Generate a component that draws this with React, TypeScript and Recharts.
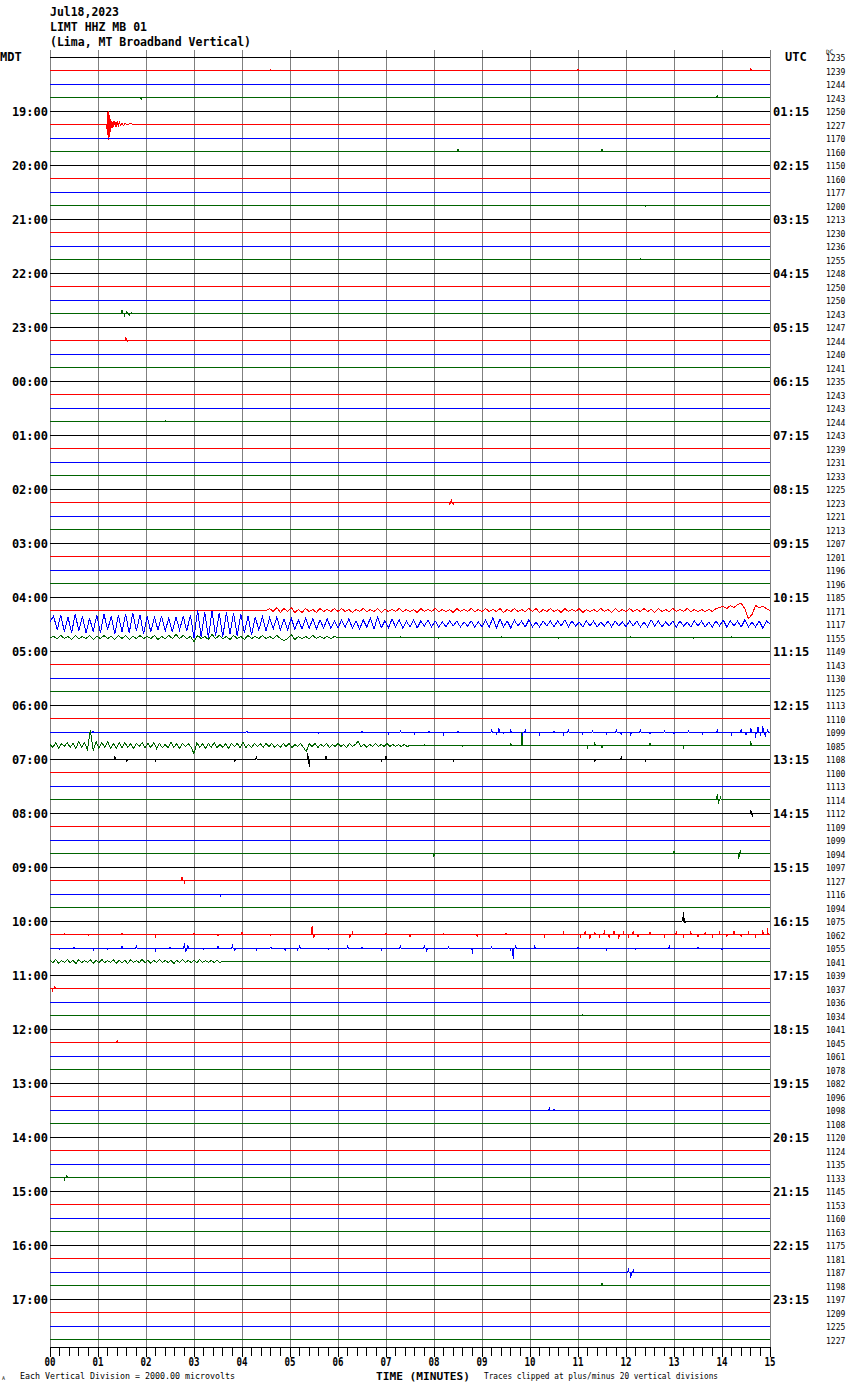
import React from "react";
import { LineChart, Line, XAxis, YAxis, CartesianGrid } from "recharts";

// ---------------- data ----------------
const traceColors = ["#000000", "#ff0000", "#0000ff", "#006400"];

const mdtLabels = ["MDT", "19:00", "20:00", "21:00", "22:00", "23:00", "00:00", "01:00", "02:00", "03:00", "04:00", "05:00", "06:00", "07:00", "08:00", "09:00", "10:00", "11:00", "12:00", "13:00", "14:00", "15:00", "16:00", "17:00"];
const utcLabels = ["UTC", "01:15", "02:15", "03:15", "04:15", "05:15", "06:15", "07:15", "08:15", "09:15", "10:15", "11:15", "12:15", "13:15", "14:15", "15:15", "16:15", "17:15", "18:15", "19:15", "20:15", "21:15", "22:15", "23:15"];
const minuteLabels = ["00", "01", "02", "03", "04", "05", "06", "07", "08", "09", "10", "11", "12", "13", "14", "15"];

const dcValues = [
  1235, 1239, 1244, 1243, 1250, 1227, 1170, 1160, 1150, 1160, 1177, 1200,
  1213, 1230, 1236, 1255, 1248, 1250, 1250, 1243, 1247, 1244, 1240, 1241,
  1235, 1243, 1243, 1244, 1243, 1239, 1231, 1233, 1225, 1223, 1221, 1213,
  1207, 1201, 1196, 1196, 1185, 1171, 1117, 1155, 1149, 1143, 1130, 1125,
  1113, 1110, 1099, 1085, 1108, 1100, 1113, 1114, 1112, 1109, 1099, 1094,
  1097, 1127, 1116, 1094, 1075, 1062, 1055, 1041, 1039, 1037, 1036, 1034,
  1041, 1045, 1061, 1078, 1082, 1096, 1098, 1108, 1120, 1124, 1135, 1133,
  1145, 1153, 1160, 1163, 1175, 1181, 1187, 1198, 1197, 1209, 1225, 1227,
];

// amplitudes in pixels of deflection, positive = upward
// 04:15 red trace, samples every 0.075 min from minute 4.5
const red0415 = [
  0, 2, -1, 3, -2, 2, -1, 3, -2, 1, -2, 2, -1, 1, -2, 2, -1, 1, -1, 2,
  -1, 2, -1, 1, -2, 1, -1, 2, -1, 1, -1, 2, -2, 1, -1, 1, -1, 2, -1, 1,
  -1, 1, -2, 2, -1, 1, -1, 2, -1, 1, -1, 1, -2, 2, -1, 1, -1, 2, -1, 1,
  -1, 2, -1, 1, -1, 2, -2, 1, -1, 2, -1, 1, -1, 2, -1, 2, -2, 1, -1, 2,
  -1, 1, -2, 2, -1, 1, -1, 2, -2, 1, -1, 1, -1, 2, -1, 1, -2, 2, -1, 1,
  -1, 2, -1, 1, -1, 2, -1, 1, -2, 2, -1, 1, -1, 2, -1, 1, -1, 2, -1, 1,
  -1, 1, -1, 1, -1, 2, 3, 4, 2, 5, 3, 6, 7, 2, -8, -4, 5, 3, 4, 2,
  0,
];
// 04:30 blue trace (surface waves), samples every 0.075 min from minute 0
const blue0430 = [
  2, 8, -6, 9, -8, 7, -9, 10, -7, 8, -9, 6, -8, 9, -9, 10, -6, 8, -10, 9,
  -8, 10, -9, 11, -7, 9, -10, 8, -8, 7, -6, 8, -7, 6, -8, 7, -6, 8, -7, 9,
  -14, 14, -13, 12, -14, 13, -12, 11, -13, 12, -10, 11, -12, 10, -9, 8, -11, 7, -6, 7,
  -7, 6, -5, 7, -6, 5, -6, 6, -5, 4, -5, 6, -4, 5, -5, 4, -4, 5, -4, 3,
  -4, 4, -3, 5, -4, 3, -5, 4, -3, 6, -5, 7, -4, 3, -4, 5, -3, 4, -4, 3,
  -3, 4, -4, 3, -2, 4, -3, 3, -3, 2, -3, 3, -2, 3, -3, 2, -2, 3, -3, 2,
  -3, 4, -3, 6, -4, 5, -3, 3, -4, 4, -2, 3, -3, 4, -3, 2, -3, 3, -2, 3,
  -3, 3, -2, 4, -3, 3, -2, 2, -3, 3, -2, 3, -3, 2, -2, 3, -3, 3, -2, 2,
  -3, 3, -2, 3, -3, 2, -3, 4, -2, 3, -3, 2, -2, 3, -3, 3, -2, 2, -3, 3,
  -2, 3, -3, 2, -3, 3, -2, 4, -3, 3, -2, 3, -3, 4, -3, 2, -3, 3, -4, 3,
  0,
];
// 04:45 green trace, samples every 0.075 min from minute 0
const green0445 = [
  0, 1, -1, 2, -1, 1, -2, 2, -1, 1, -1, 2, -2, 1, -1, 2, -1, 1, -2, 2,
  -1, 2, -2, 1, -1, 2, -1, 1, -1, 2, -2, 1, -1, 2, -1, 3, -1, 2, -1, 1,
  -4, 2, -1, 1, -2, 3, -1, 2, -1, 1, -2, 2, -1, 1, -2, 2, -1, 1, -1, 2,
  -1, 1, -1, 2, -1, -3, -1, 3, -2, 1, -1, 1, -1, 2, -1, 1, -1, 1, -1, 1,
  0,
];
// 06:45 green trace, samples every 0.06 min from minute 0
const green0645 = [
  1, -2, 3, -3, 2, -1, 3, -2, 2, -3, 4, -2, 3, -4, 15, -5, 4, -3, 3, -2, 4, -3, 2, -3, 3,
  -2, 3, -2, 2, -3, 2, -1, 3, -2, 2, -2, 3, -3, 2, -2, 1, -2, 3, -2, 2, -3, 2, -1, 2, -2,
  -8, 3, -2, 2, -3, 2, -2, 3, -2, 1, -2, 2, -3, 2, -1, 2, -2, 3, -2, 1, -2, 2, -1, 2, -2,
  2, -1, 2, -2, 1, -2, 2, -1, 2, -2, 1, -1, 2, -2, -6, 2, -1, 2, -2, 1, -1, 2, -2, 1, -1,
  2, -1, 1, -2, 2, -1, 1, 4, -1, 1, -2, 1, -1, 2, -1, 1, -1, 2, -1, 1, -1, 1, -1, 1, -1,
  0,
];
// 10:45 green trace, samples every 0.06 min from minute 0
const green1045 = [
  1, -1, 2, -2, 1, -1, 2, -1, 1, -2, 2, -1, 1, -1, 2, -2, 1, -1, 2, -1,
  1, -1, 2, -2, 1, -1, 1, -2, 2, -1, 1, -1, 2, -1, 1, -2, 1, -1, 2, -1,
  1, -1, 1, -2, 1, -1, 2, -1, 1, -1, 1, -1, 2, -1, 1, -1, 1, -1, 1, -1,
  0,
];
// 19:15 red trace: local earthquake, [minute, amplitude]
const quake0115: [number, number][] = [
  [1.18, 0], [1.19, -6], [1.2, 12], [1.21, -15], [1.22, 13], [1.23, -12], [1.24, 9], [1.25, -8],
  [1.26, 5], [1.27, -4], [1.285, 3], [1.3, -3], [1.315, 3], [1.33, -2], [1.345, 3], [1.36, -2],
  [1.375, 2], [1.39, -2], [1.41, 2], [1.43, -1], [1.45, 2], [1.47, -1], [1.5, 1], [1.53, -1],
  [1.56, 1], [1.6, 0], [1.7, 1], [1.72, 0],
];

// isolated spikes, [minute, amplitude]
const spikes0630: [number, number][] = [
  [0.9, 1], [2.4, -1], [4.1, 1], [5.6, -1], [6.5, 1],
  [7.05, -2], [7.3, 1], [7.6, -2], [7.9, 1], [8.2, -2], [8.5, 1], [8.9, -1], [9.2, 2], [9.3, -2],
  [9.35, 4], [9.45, -1], [9.6, 2], [9.83, -6], [9.9, 2], [10.2, -2], [10.5, 1], [10.7, -4], [10.8, 2],
  [11.1, -2], [11.3, 1], [11.6, -2], [11.8, 2], [11.9, -3], [12.1, -4], [12.3, 2], [12.5, -2], [12.8, 1],
  [13.0, -2], [13.3, 1], [13.6, -2], [13.9, 2], [14.2, -2], [14.4, 3], [14.5, -3], [14.6, 4], [14.7, -6],
  [14.75, 5], [14.8, -4], [14.85, 6], [14.9, -5], [14.95, 3],
];
const spikes0645: [number, number][] = [
  [7.8, 1], [8.6, -1], [9.6, 2], [9.83, 13], [11.2, -3], [11.35, 3], [11.5, -2], [12.5, 2],
  [13.2, -2], [14.6, 4],
];
const spikes0700: [number, number][] = [
  [1.35, 3], [1.6, -3], [2.2, -3], [3.85, -3], [4.3, 3], [5.37, 6], [5.4, -8], [5.75, 3],
  [6.9, -2], [7.0, 3], [8.4, -2], [11.35, -3], [11.9, 2], [12.4, -2],
];
const spikes1000: [number, number][] = [[13.18, 4], [13.2, 9], [13.23, -2]];
const spikes1015: [number, number][] = [
  [0.3, 1], [0.8, -1], [1.5, 1], [2.2, -2], [3.0, 1], [3.5, -1], [4.0, 2], [4.6, -1], [5.46, 8],
  [5.5, -3], [6.25, -3], [6.3, 2], [7.0, 1], [7.5, -2], [8.2, 1], [8.9, -2], [9.5, 1], [10.3, -2],
  [10.7, 2], [11.05, -3], [11.15, 3], [11.25, -4], [11.35, 2], [11.45, -3], [11.55, 4], [11.65, -3],
  [11.75, 3], [11.85, -4], [11.95, 2], [12.05, -3], [12.15, 3], [12.25, -2], [12.5, 2], [12.8, -2],
  [13.05, 3], [13.2, -2], [13.35, 3], [13.5, -2], [13.65, 2], [13.8, -3], [13.95, 2], [14.1, -2],
  [14.25, 3], [14.4, -2], [14.55, 2], [14.7, -3], [14.85, 4], [14.95, 6],
];
const spikes1030: [number, number][] = [
  [0.2, -1], [0.5, 1], [0.9, -2], [1.2, -1], [1.5, 2], [1.8, 2], [2.2, -2], [2.5, 1], [2.8, 5],
  [2.83, -4], [2.87, 3], [3.2, -1], [3.5, 2], [3.8, 4], [3.85, -3], [4.3, -2], [4.6, 1], [4.9, -3],
  [5.15, -2], [5.2, 3], [5.8, -1], [6.2, 2], [6.5, 1], [6.9, -2], [7.3, 2], [7.8, 3], [7.85, -4],
  [8.3, 1], [8.8, -6], [9.2, 1], [9.6, -2], [9.65, -11], [9.7, 3], [10.1, 2], [10.5, -1], [11.0, 1],
  [11.6, -2], [12.2, -1], [12.9, 2], [13.5, 1], [14.0, -2], [14.4, -1],
];
const smallSpikes: [number, [number, number][]][] = [
  [1, [[4.6, 1], [11.0, 1], [14.6, 2]]],
  [3, [[1.9, -2], [13.9, 2]]],
  [7, [[8.5, 2], [11.5, 2]]],
  [11, [[12.4, -1]]],
  [15, [[12.3, 1]]],
  [19, [[1.5, 3], [1.55, -2], [1.6, 2], [1.65, -2], [1.7, 1]]],
  [21, [[1.58, 3], [1.62, -1]]],
  [27, [[2.4, 1]]],
  [33, [[8.33, -2], [8.36, 3], [8.4, -2]]],
  [43, [[7.3, 1], [8.1, -1], [9.4, 1], [10.6, -1], [12.1, 1], [13.4, -1], [14.2, 1]]],
  [55, [[13.9, 5], [13.93, -4], [13.97, 2]]],
  [56, [[14.6, 3], [14.63, -4]]],
  [59, [[8.0, -3], [13.0, 2], [14.35, -5], [14.38, 3]]],
  [61, [[2.75, 3], [2.8, -2]]],
  [62, [[3.55, -3]]],
  [69, [[0.05, -3], [0.1, 2]]],
  [71, [[11.1, 1]]],
  [73, [[1.4, 2]]],
  [78, [[10.4, 2], [10.5, 1]]],
  [83, [[0.3, -2], [0.35, 2]]],
  [90, [[12.05, 4], [12.1, -6], [12.15, 2]]],
  [91, [[11.5, 2]]],
];

// ---------------- assembly ----------------
const TRACE_COUNT = 96;
const GAP = 13.5;

const denseSegments = [
  { trace: 41, start: 4.5, step: 0.075, values: red0415 },
  { trace: 42, start: 0, step: 0.075, values: blue0430 },
  { trace: 43, start: 0, step: 0.075, values: green0445 },
  { trace: 51, start: 0, step: 0.06, values: green0645 },
  { trace: 67, start: 0, step: 0.06, values: green1045 },
];
const pathSegments = [{ trace: 5, points: quake0115 }];
const spikeSegments: [number, [number, number][]][] = [
  [50, spikes0630],
  [51, spikes0645],
  [52, spikes0700],
  [64, spikes1000],
  [65, spikes1015],
  [66, spikes1030],
  ...smallSpikes,
];

function buildTrace(i: number) {
  const raw: [number, number][] = [];
  denseSegments.filter((d) => d.trace === i).forEach((d) => {
    d.values.forEach((a, k) => raw.push([d.start + k * d.step, a]));
  });
  pathSegments.filter((p) => p.trace === i).forEach((p) => p.points.forEach((pt) => raw.push(pt)));
  spikeSegments.filter((s) => s[0] === i).forEach((s) => {
    s[1].forEach(([t, a]) => {
      raw.push([t - 0.012, 0], [t, a], [t + 0.012, 0]);
    });
  });
  raw.sort((p, q) => p[0] - q[0]);
  if (!raw.length || raw[0][0] > 0) raw.unshift([0, 0]);
  if (raw[raw.length - 1][0] < 15) raw.push([15, 0]);
  return raw.map(([t, a]) => ({ t, v: i * GAP - a }));
}

const traces = Array.from({ length: TRACE_COUNT }, (_, i) => ({
  id: i,
  color: traceColors[i % 4],
  data: buildTrace(i),
}));

const hourTicks = mdtLabels.map((_, k) => k * 4 * GAP);
const traceTicks = dcValues.map((_, i) => i * GAP);
const minuteTicks = minuteLabels.map((_, m) => m);
const axisTicks = Array.from({ length: 76 }, (_, k) => k / 5);

const MONO = "'DejaVu Sans Mono', monospace";

const LeftTick = (props: any) => {
  const { y, payload } = props;
  const k = Math.round(payload.value / GAP / 4);
  if (k === 0) {
    return (
      <text x={0} y={y + 4} fontFamily={MONO} fontWeight="bold" fontSize={12} fill="#000">
        {mdtLabels[0]}
      </text>
    );
  }
  return (
    <text x={48} y={y + 5} textAnchor="end" fontFamily={MONO} fontWeight="bold" fontSize={12} fill="#000">
      {mdtLabels[k]}
    </text>
  );
};

const RightTick = (props: any) => {
  const { y, payload } = props;
  const i = Math.round(payload.value / GAP);
  const hour = i % 4 === 0;
  const k = i / 4;
  return (
    <g>
      {hour && (
        <text
          x={k === 0 ? 785 : 773}
          y={y + (k === 0 ? 4 : 5)}
          fontFamily={MONO}
          fontWeight="bold"
          fontSize={12}
          fill="#000"
        >
          {utcLabels[k]}
        </text>
      )}
      {i === 0 && (
        <text x={826} y={y - 3} fontFamily={MONO} fontSize={6} fill="#000">
          DC
        </text>
      )}
      <text x={826} y={y + 4} fontFamily={MONO} fontSize={8} fill="#000">
        {dcValues[i]}
      </text>
    </g>
  );
};

const BottomTick = (props: any) => {
  const { x, y, payload } = props;
  const v = payload.value;
  const major = Math.abs(v - Math.round(v)) < 1e-6;
  return (
    <g>
      <line
        x1={x}
        x2={x}
        y1={y}
        y2={y + (major ? 10 : 9)}
        stroke="#000"
        strokeWidth={1}
        shapeRendering="crispEdges"
      />
      {major && (
        <text
          x={x}
          y={y + 19}
          textAnchor="middle"
          fontFamily={MONO}
          fontWeight="bold"
          fontSize={12}
          textLength={11}
          lengthAdjust="spacingAndGlyphs"
          fill="#000"
        >
          {minuteLabels[Math.round(v)]}
        </text>
      )}
    </g>
  );
};

export default function App() {
  return (
    <div style={{ position: "absolute", left: 0, top: 0, width: 850, height: 1390, background: "#fff" }}>
      <LineChart width={850} height={1390} margin={{ top: 50, right: 0, bottom: 0, left: 0 }}>
        <CartesianGrid
          horizontal={false}
          vertical={true}
          verticalValues={minuteTicks}
          stroke="#808080"
          strokeWidth={1}
          shapeRendering="crispEdges"
          xAxisId="x"
          yAxisId="left"
        />
        <XAxis
          xAxisId="x"
          type="number"
          dataKey="t"
          domain={[0, 15]}
          allowDataOverflow
          ticks={axisTicks}
          interval={0}
          tickSize={0}
          tickMargin={0}
          tickLine={false}
          height={43}
          axisLine={{ stroke: "#000", shapeRendering: "crispEdges" }}
          tick={<BottomTick />}
        />
        <YAxis
          yAxisId="left"
          orientation="left"
          type="number"
          domain={[-7, 1290]}
          allowDataOverflow
          reversed
          width={50}
          ticks={hourTicks}
          interval={0}
          tickSize={0}
          tickMargin={0}
          tickLine={false}
          axisLine={false}
          tick={<LeftTick />}
        />
        <YAxis
          yAxisId="right"
          orientation="right"
          type="number"
          domain={[-7, 1290]}
          allowDataOverflow
          reversed
          width={80}
          ticks={traceTicks}
          interval={0}
          tickSize={0}
          tickMargin={0}
          tickLine={false}
          axisLine={false}
          tick={<RightTick />}
        />
        {traces.map((tr) => (
          <Line
            key={tr.id}
            xAxisId="x"
            yAxisId="left"
            data={tr.data}
            dataKey="v"
            type="linear"
            stroke={tr.color}
            strokeWidth={1}
            shapeRendering="crispEdges"
            dot={false}
            activeDot={false}
            isAnimationActive={false}
          />
        ))}
      </LineChart>
      <svg
        width={850}
        height={1390}
        style={{ position: "absolute", left: 0, top: 0, pointerEvents: "none" }}
      >
        <g fontFamily={MONO} fontWeight="bold" fill="#000">
          <text x={50} y={16} fontSize={11.5} textLength={69} lengthAdjust="spacingAndGlyphs">Jul18,2023</text>
          <text x={50} y={31} fontSize={11.5} textLength={97} lengthAdjust="spacingAndGlyphs">LIMT HHZ MB 01</text>
          <text x={50} y={46} fontSize={11.5} textLength={201} lengthAdjust="spacingAndGlyphs">(Lima, MT Broadband Vertical)</text>
          <text x={376} y={1380} fontSize={10.5} textLength={94} lengthAdjust="spacingAndGlyphs">TIME (MINUTES)</text>
        </g>
        <g fontFamily={MONO} fill="#000">
          <text x={2} y={1380} fontSize={5}>A</text>
          <text x={20} y={1379} fontSize={8} textLength={215} lengthAdjust="spacingAndGlyphs">
            Each Vertical Division = 2000.00 microvolts
          </text>
          <text x={484} y={1379} fontSize={8} textLength={234} lengthAdjust="spacingAndGlyphs">
            Traces clipped at plus/minus 20 vertical divisions
          </text>
        </g>
      </svg>
    </div>
  );
}
